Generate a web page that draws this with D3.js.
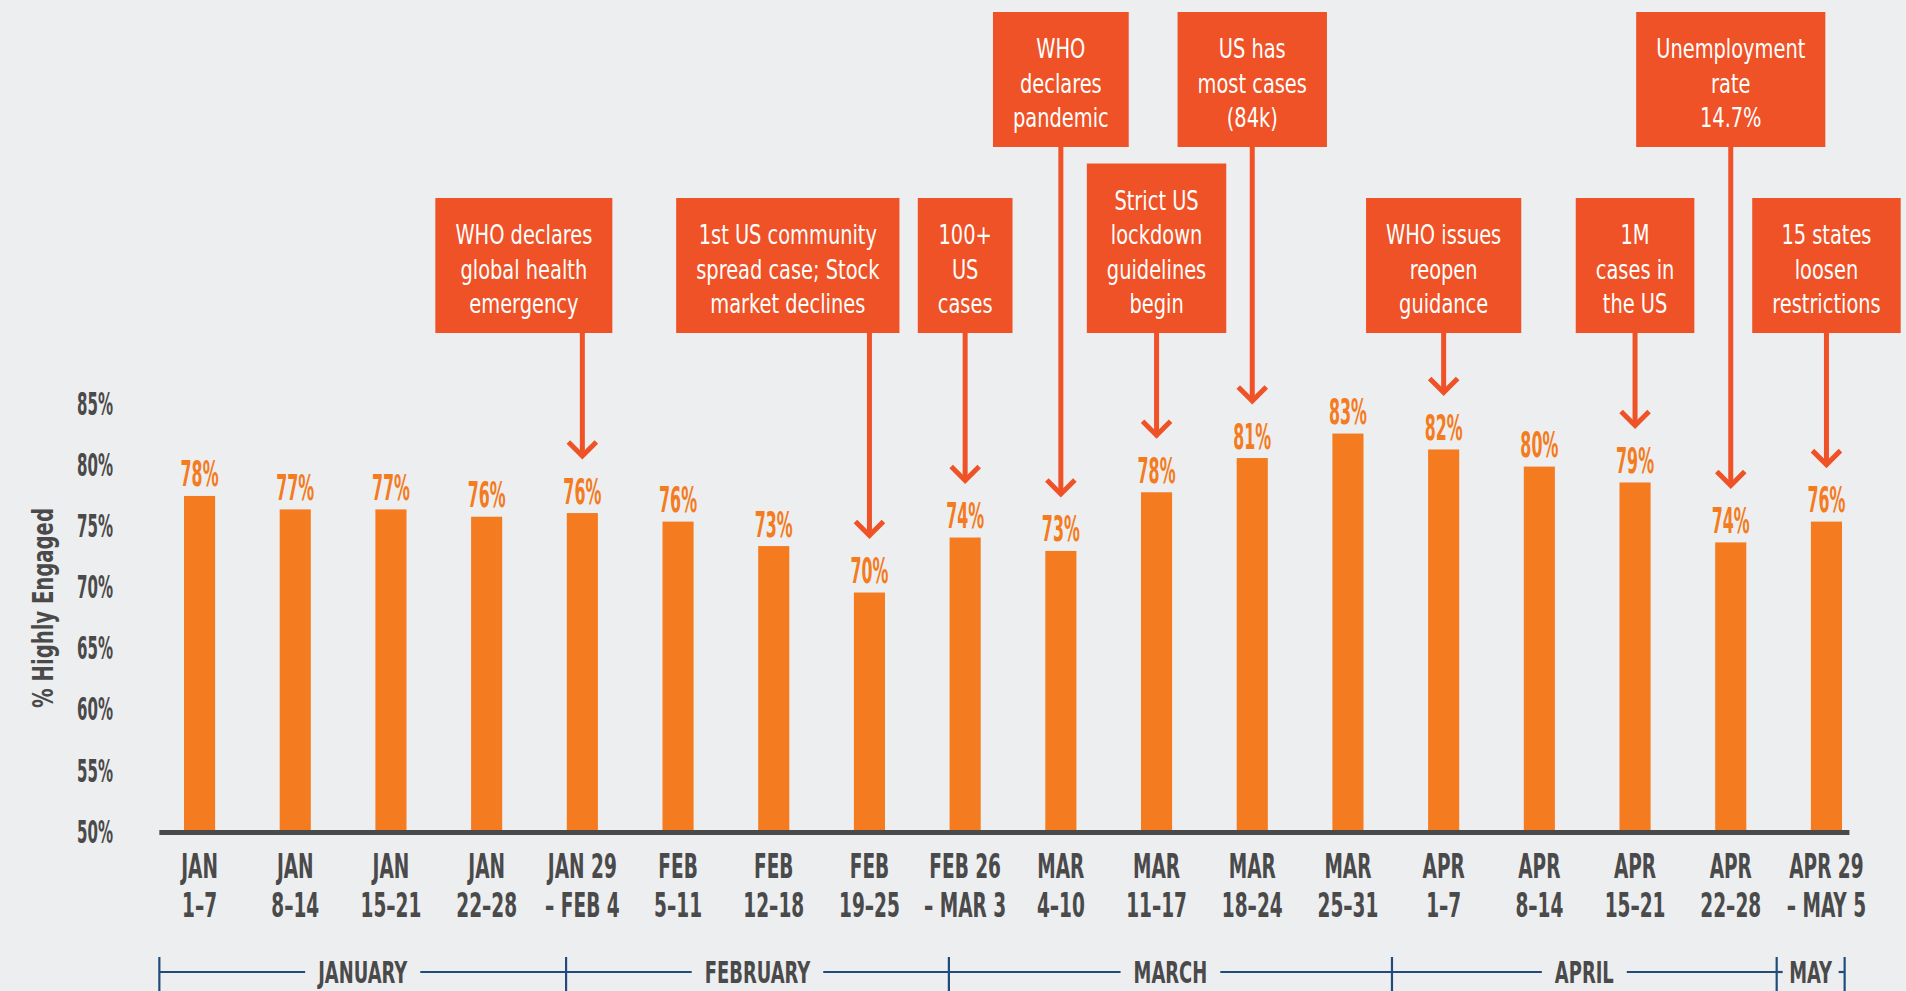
<!DOCTYPE html>
<html><head><meta charset="utf-8">
<script src="https://cdn.jsdelivr.net/npm/d3@7"></script>
<style>
html,body{margin:0;padding:0;background:#edeef0;overflow:hidden;}
svg{display:block;}
</style></head><body>
<svg id="chart" width="1906" height="991"></svg>
<script>
// ---------------- DATA ----------------
const weekTop = ["JAN","JAN","JAN","JAN","JAN 29","FEB","FEB","FEB","FEB 26","MAR","MAR","MAR","MAR","APR","APR","APR","APR","APR 29"];
const weekBottom = ["1–7","8–14","15–21","22–28","– FEB 4","5–11","12–18","19–25","– MAR 3","4–10","11–17","18–24","25–31","1–7","8–14","15–21","22–28","– MAY 5"];
const engaged = [77.4,76.3,76.3,75.7,76.0,75.3,73.3,69.5,74.0,72.9,77.7,80.5,82.5,81.2,79.8,78.5,73.6,75.3];
const engagedLabels = ["78%","77%","77%","76%","76%","76%","73%","70%","74%","73%","78%","81%","83%","82%","80%","79%","74%","76%"];
const yTicks = [50,55,60,65,70,75,80,85];
const yTitle = "% Highly Engaged";

const monthNames = ["JANUARY","FEBRUARY","MARCH","APRIL","MAY"];
// month boundaries expressed in week-index units
const monthBounds = [-0.42, 3.83, 7.83, 12.46, 16.48, 17.19];

const eventWeek = [4,7,8,9,10,11,13,15,16,17];
const eventText = [
  ["WHO declares","global health","emergency"],
  ["1st US community","spread case; Stock","market declines"],
  ["100+","US","cases"],
  ["WHO","declares","pandemic"],
  ["Strict US","lockdown","guidelines","begin"],
  ["US has","most cases","(84k)"],
  ["WHO issues","reopen","guidance"],
  ["1M","cases in","the US"],
  ["Unemployment","rate","14.7%"],
  ["15 states","loosen","restrictions"]
];
const eventTier = [0,0,0,1,0,1,0,0,1,0];          // 1 = upper row of boxes
const eventAlign = ["right","right","center","center","center","center","center","center","center","center"];

// ---------------- STYLE ----------------
const BG = "#edeef0", BAR = "#f47b20", ANN = "#ef5226", GRAY = "#4a4a4a", NAVY = "#1f4b7d";
const FONT = "'Liberation Sans Narrow','DejaVu Sans Condensed','Liberation Sans',sans-serif";

const svg = d3.select("#chart");
svg.append("rect").attr("width",1906).attr("height",991).attr("fill",BG);

function measure(str, size, weight){
  const t = svg.append("text").attr("font-family",FONT).attr("font-size",size)
    .attr("font-weight",weight).text(str);
  const w = t.node().getComputedTextLength(); t.remove(); return w;
}
const sxValue = 38/measure("78%",36,"bold");
const sxTick = 36/measure("85%",32,"bold");
const sxCat = 69/measure("JAN 29",33,"bold");
const sxMonth = 92/measure("JANUARY",32,"bold");
const sxAnn = 137/measure("WHO declares",26,"normal");
const sxTitle = 200/measure(yTitle,28,"bold");

// ---------------- SCALES ----------------
const ids = weekTop.map((d,i)=>d+" "+weekBottom[i]);
const x = d3.scaleBand().domain(ids).range([119.4,1906.6]).paddingInner(0.675).paddingOuter(0.675);
const bw = x.bandwidth();
const cx = i => x(ids[i]) + bw/2;
const xi = d3.scaleLinear().domain([0, ids.length-1]).range([cx(0), cx(ids.length-1)]);
const y = d3.scaleLinear().domain([50,85]).range([831,403]);

// ---------------- Y AXIS ----------------
const yAxis = svg.append("g").attr("transform","translate(113,0)")
  .call(d3.axisLeft(y).tickValues(yTicks).tickFormat(d=>d+"%").tickSize(0).tickPadding(0));
yAxis.select(".domain").remove();
yAxis.selectAll("text")
  .attr("x",0).attr("dy",null).attr("dominant-baseline","central")
  .attr("font-family",FONT).attr("font-size",32).attr("font-weight","bold")
  .attr("fill",GRAY).attr("text-anchor","end")
  .attr("transform",`scale(${sxTick},1)`);

svg.append("text")
  .attr("transform",`translate(53,608) rotate(-90) scale(${sxTitle},1)`)
  .attr("text-anchor","middle").attr("font-family",FONT).attr("font-size",28)
  .attr("font-weight","bold").attr("fill",GRAY).text(yTitle);

// ---------------- BARS ----------------
svg.append("g").selectAll("rect").data(engaged).join("rect")
  .attr("x",(d,i)=>x(ids[i])).attr("width",bw)
  .attr("y",d=>y(d)).attr("height",d=>y(50)-y(d)).attr("fill",BAR);

svg.append("g").selectAll("text").data(engaged).join("text")
  .attr("transform",(d,i)=>`translate(${cx(i)},${y(d)-9.5}) scale(${sxValue},1)`)
  .attr("text-anchor","middle").attr("font-family",FONT).attr("font-size",36)
  .attr("font-weight","bold").attr("fill",BAR).text((d,i)=>engagedLabels[i]);

// baseline
svg.append("line").attr("x1",xi(-0.42)).attr("x2",xi(17.24))
  .attr("y1",y(50)+1.5).attr("y2",y(50)+1.5).attr("stroke",GRAY).attr("stroke-width",5);

// ---------------- CATEGORY LABELS ----------------
const catG = svg.append("g").selectAll("g").data(ids).join("g");
catG.append("text")
  .attr("transform",(d,i)=>`translate(${cx(i)},878) scale(${sxCat},1)`)
  .attr("text-anchor","middle").attr("font-family",FONT).attr("font-size",33)
  .attr("font-weight","bold").attr("fill",GRAY).text((d,i)=>weekTop[i]);
catG.append("text")
  .attr("transform",(d,i)=>`translate(${cx(i)},917) scale(${sxCat},1)`)
  .attr("text-anchor","middle").attr("font-family",FONT).attr("font-size",33)
  .attr("font-weight","bold").attr("fill",GRAY).text((d,i)=>weekBottom[i]);

// ---------------- MONTH TIMELINE ----------------
const mY = 972;
const mG = svg.append("g");
monthNames.forEach((m,k)=>{
  const x0 = xi(monthBounds[k]), x1 = xi(monthBounds[k+1]);
  const mid = (x0+x1)/2;
  const lw = measure(m,31,"bold")*sxMonth;
  const gap = Math.min(13, (x1-x0-lw)/2 - 6);
  mG.append("line").attr("x1",x0).attr("x2",mid-lw/2-gap).attr("y1",mY).attr("y2",mY)
    .attr("stroke",NAVY).attr("stroke-width",2.2);
  mG.append("line").attr("x1",mid+lw/2+gap).attr("x2",x1).attr("y1",mY).attr("y2",mY)
    .attr("stroke",NAVY).attr("stroke-width",2.2);
  mG.append("text").attr("transform",`translate(${mid},983) scale(${sxMonth},1)`)
    .attr("text-anchor","middle").attr("font-family",FONT).attr("font-size",31)
    .attr("font-weight","bold").attr("fill",GRAY).text(m);
});
mG.selectAll("line.tick").data(monthBounds).join("line").attr("class","tick")
  .attr("x1",d=>xi(d)).attr("x2",d=>xi(d)).attr("y1",957).attr("y2",995)
  .attr("stroke",NAVY).attr("stroke-width",2.2);

// ---------------- EVENT ANNOTATIONS ----------------
const annG = svg.append("g");
eventWeek.forEach((wk,k)=>{
  const lines = eventText[k];
  const n = lines.length;
  const h = 34.5*n + 31.5;
  const bottom = eventTier[k]===1 ? 147 : 333;
  const top = bottom - h;
  const tw = d3.max(lines, l=>measure(l,26,"normal")*sxAnn);
  const boxW = tw + 40;
  const ax = cx(wk);
  const left = eventAlign[k]==="right" ? ax + 30 - boxW : ax - boxW/2;
  const bcx = left + boxW/2, bcy = top + h/2;
  const tip = y(engaged[wk]) - 56;
  annG.append("line").attr("x1",ax).attr("x2",ax).attr("y1",bottom-1).attr("y2",tip-3)
    .attr("stroke",ANN).attr("stroke-width",5);
  annG.append("path").attr("d",`M${ax-14},${tip-15}L${ax},${tip-1}L${ax+14},${tip-15}`)
    .attr("fill","none").attr("stroke",ANN).attr("stroke-width",5);
  annG.append("rect").attr("x",left).attr("y",top).attr("width",boxW).attr("height",h).attr("fill",ANN);
  lines.forEach((l,i)=>{
    annG.append("text")
      .attr("transform",`translate(${bcx},${bcy + (i-(n-1)/2)*34.5 + 13}) scale(${sxAnn},1)`)
      .attr("text-anchor","middle").attr("font-family",FONT).attr("font-size",26)
      .attr("fill","#ffffff").text(l);
  });
});
</script>
</body></html>
